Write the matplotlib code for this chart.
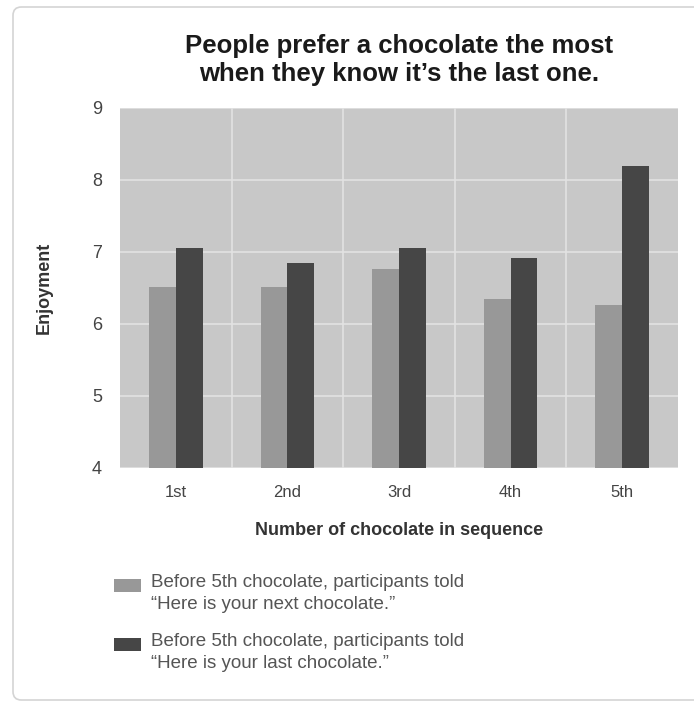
import matplotlib.pyplot as plt
import numpy as np
from matplotlib.patches import FancyBboxPatch, Rectangle
from matplotlib.legend_handler import HandlerPatch
from matplotlib import font_manager

# data
categories = ['1st', '2nd', '3rd', '4th', '5th']
next_choc = [6.51, 6.51, 6.76, 6.35, 6.26]
last_choc = [7.05, 6.85, 7.05, 6.92, 8.19]
labels = ['Before 5th chocolate, participants told\n\u201cHere is your next chocolate.\u201d',
          'Before 5th chocolate, participants told\n\u201cHere is your last chocolate.\u201d']

installed = {f.name for f in font_manager.fontManager.ttflist}
narrow = ['Liberation Sans Narrow'] if 'Liberation Sans Narrow' in installed else []
narrow = narrow + ['Liberation Sans', 'DejaVu Sans']
wide = ['Liberation Sans', 'DejaVu Sans']
has_narrow = len(narrow) == 3

fig = plt.figure(figsize=(6.94, 7.03), dpi=100)

# light rounded frame around the whole graphic
frame = FancyBboxPatch((13 / 694, 1 - 700 / 703), 1.0, 693 / 703,
                       boxstyle='round,pad=0,rounding_size=0.012',
                       transform=fig.transFigure, facecolor='white',
                       edgecolor='#d4d4d4', linewidth=1.2, zorder=-10)
fig.patches.append(frame)

ax = fig.add_axes([120 / 694, 1 - 468 / 703, 558 / 694, 360 / 703])
ax.set_facecolor('#c8c8c8')

x = np.arange(len(categories))
w = 0.24
b1 = ax.bar(x - w / 2, np.array(next_choc) - 4, w, bottom=4, color='#989898', zorder=3)
b2 = ax.bar(x + w / 2, np.array(last_choc) - 4, w, bottom=4, color='#464646', zorder=3)

ax.set_xlim(-0.5, 4.5)
ax.set_ylim(4, 9)
ax.set_xticks(x)
ax.set_xticklabels(categories, fontfamily=narrow, fontsize=13 if has_narrow else 12,
                   color='#444444')
ax.set_yticks(np.arange(4, 10))
for lab in ax.get_yticklabels():
    lab.set_fontfamily(wide)
    lab.set_fontsize(13)
    lab.set_color('#444444')
ax.set_xticks(np.arange(0.5, 4.5, 1), minor=True)
ax.tick_params(axis='both', which='both', length=0)
ax.tick_params(axis='x', pad=12)
ax.tick_params(axis='y', pad=13)
ax.grid(True, which='minor', axis='x', color='#e2e2e2', linewidth=1.2, zorder=1)
ax.grid(True, which='major', axis='y', color='#e2e2e2', linewidth=1.2, zorder=1)
ax.grid(False, which='major', axis='x')
for s in ax.spines.values():
    s.set_visible(False)

ax.set_xlabel('Number of chocolate in sequence', fontfamily=narrow, fontweight='bold',
              fontsize=14 if has_narrow else 13, color='#333333', labelpad=16)
ax.set_ylabel('Enjoyment', fontfamily=narrow, fontweight='bold',
              fontsize=14 if has_narrow else 13, color='#333333')
ax.yaxis.set_label_coords(-(120 - 53) / 558, 0.5)

fig.text(399 / 694, 1 - 60 / 703,
         'People prefer a chocolate the most\nwhen they know it\u2019s the last one.',
         ha='center', va='center', fontfamily=wide, fontweight='bold',
         fontsize=18.5, color='#1a1a1a', linespacing=1.2)


def top_square(legend, orig_handle, xdescent, ydescent, width, height, fontsize):
    # legend swatch sits level with the first text line
    return Rectangle((-xdescent, -ydescent + 0.42 * fontsize), width, height)


h1, h2 = b1.patches[0], b2.patches[0]
leg = fig.legend([h1, h2], labels, loc='upper left',
                 bbox_to_anchor=(114 / 694, 1 - 574 / 703), frameon=False,
                 prop={'family': narrow, 'size': 14 if has_narrow else 13.5},
                 handlelength=1.45, handleheight=0.7, handletextpad=0.5,
                 labelspacing=1.05, borderaxespad=0, borderpad=0,
                 handler_map={h1: HandlerPatch(patch_func=top_square),
                              h2: HandlerPatch(patch_func=top_square)})
for t in leg.get_texts():
    t.set_color('#555555')
    t.set_linespacing(1.4)

fig.savefig('out.png', dpi=100)
